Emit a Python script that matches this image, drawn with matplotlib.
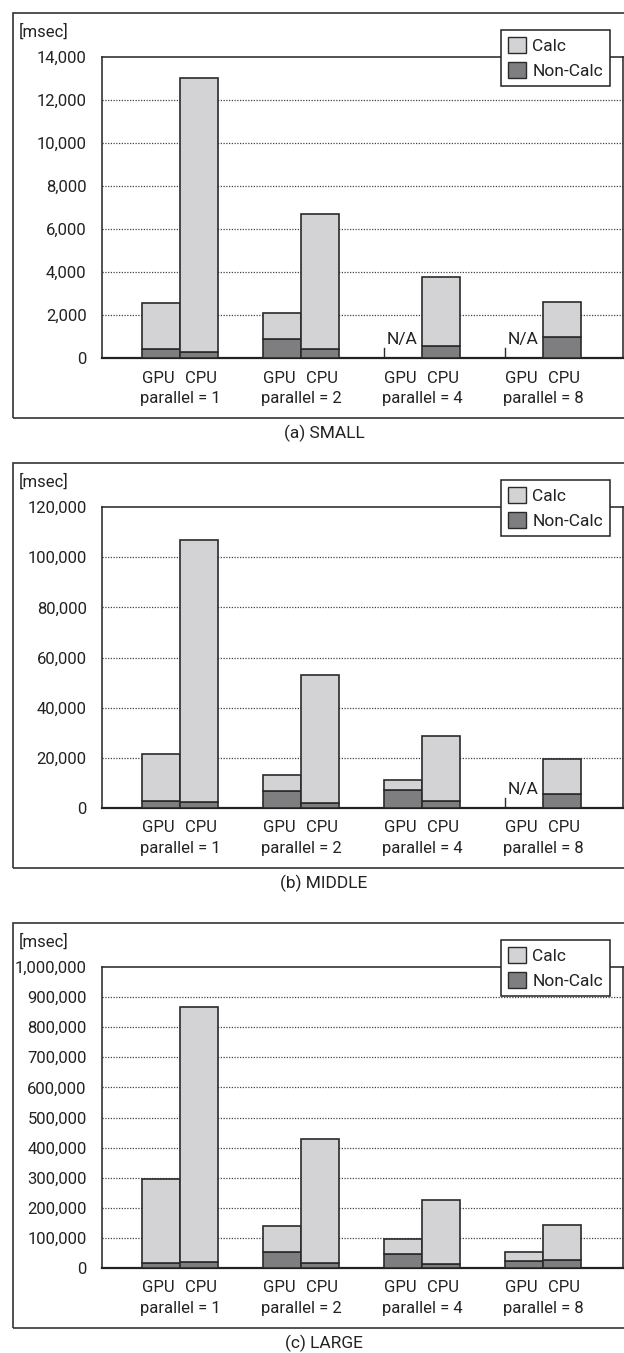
import numpy as np
from matplotlib import pyplot as plt
from matplotlib.patches import Patch, Rectangle

# data (msec)
groups = ["parallel = 1", "parallel = 2", "parallel = 4", "parallel = 8"]
nan = np.nan

small_gpu_non = [420, 900, nan, nan]
small_gpu_calc = [2150, 1180, nan, nan]
small_cpu_non = [300, 400, 550, 1000]
small_cpu_calc = [12700, 6300, 3200, 1600]

middle_gpu_non = [2600, 6600, 7000, nan]
middle_gpu_calc = [19000, 6400, 4000, nan]
middle_cpu_non = [2200, 1800, 2600, 5400]
middle_cpu_calc = [104800, 51200, 26200, 14000]

large_gpu_non = [15300, 51700, 45000, 24300]
large_gpu_calc = [280700, 87300, 51000, 27700]
large_cpu_non = [20000, 15300, 13200, 26500]
large_cpu_calc = [847000, 414700, 213300, 117100]

captions = ["(a) SMALL", "(b) MIDDLE", "(c) LARGE"]
y_max = [14000, 120000, 1000000]
y_step = [2000, 20000, 100000]

plt.rcParams["font.family"] = ["Roboto", "DejaVu Sans"]
plt.rcParams["font.size"] = 12

W, H = 624, 1353
CALC = "#d3d3d5"
NON = "#7e7e80"
EDGE = "#2a2a2a"
TXT = "#222222"


def fx(x):
    return x / W


def fy(y):
    return 1 - y / H


fig = plt.figure(figsize=(W / 100, H / 100), dpi=100)

data = [
    (small_gpu_non, small_gpu_calc, small_cpu_non, small_cpu_calc),
    (middle_gpu_non, middle_gpu_calc, middle_cpu_non, middle_cpu_calc),
    (large_gpu_non, large_gpu_calc, large_cpu_non, large_cpu_calc),
]
offsets = [0, 450, 910]

x = np.arange(len(groups))
bw = 0.314

for i, (gn, gc, cn, cc) in enumerate(data):
    off = offsets[i]
    # outer frame
    fig.add_artist(Rectangle((fx(13), fy(418 + off)), fx(640) - fx(13), fy(13 + off) - fy(418 + off),
                             transform=fig.transFigure, fill=False, edgecolor="#333333", lw=1.2))
    ax = fig.add_axes([fx(102), fy(358 + off), fx(623) - fx(102), fy(57 + off) - fy(358 + off)])
    gpu_x = x - bw / 2
    cpu_x = x + bw / 2
    gn = np.array(gn, dtype=float)
    gc = np.array(gc, dtype=float)
    cn = np.array(cn, dtype=float)
    cc = np.array(cc, dtype=float)
    ok = ~np.isnan(gn)
    ax.bar(gpu_x[ok], gn[ok], bw, color=NON, edgecolor=EDGE, lw=1.2, zorder=3)
    ax.bar(gpu_x[ok], gc[ok], bw, bottom=gn[ok], color=CALC, edgecolor=EDGE, lw=1.2, zorder=3)
    ax.bar(cpu_x, cn, bw, color=NON, edgecolor=EDGE, lw=1.2, zorder=3)
    ax.bar(cpu_x, cc, bw, bottom=cn, color=CALC, edgecolor=EDGE, lw=1.2, zorder=3)

    for j in np.where(~ok)[0]:
        x0 = x[j] - bw
        ax.plot([x0, x0], [0, 0.033], color=EDGE, lw=1.0,
                transform=ax.get_xaxis_transform(), zorder=3)
        ax.annotate("N/A", (x0, 0), xytext=(2, 8), textcoords="offset points",
                    ha="left", va="bottom", fontsize=12.5, color=TXT)

    ax.set_xlim(-0.645, 3.661)
    ax.set_ylim(0, y_max[i])
    ticks = np.arange(0, y_max[i] + 1, y_step[i])
    ax.set_yticks(ticks)
    ax.set_yticklabels([f"{t:,}" for t in ticks])
    ax.tick_params(axis="y", length=0, pad=11, labelcolor=TXT)
    for t in ticks[1:-1]:
        ax.axhline(t, color="#444444", lw=0.9, ls=(0, (1, 1.2)), zorder=1)

    ax.set_xticks(np.concatenate([gpu_x - 0.02, cpu_x + 0.02]))
    ax.set_xticklabels(["GPU"] * 4 + ["CPU"] * 4)
    ax.tick_params(axis="x", length=0, pad=9, labelcolor=TXT)
    for j, g in enumerate(groups):
        ax.text(x[j], -0.133, g, transform=ax.get_xaxis_transform(),
                ha="center", va="center", fontsize=12, color=TXT)

    for s in ax.spines.values():
        s.set_color("#222222")
        s.set_linewidth(1.1)
    ax.spines["bottom"].set_linewidth(1.6)

    fig.text(fx(19), fy(32 + off), "[msec]", ha="left", va="center", fontsize=12, color=TXT)
    fig.text(fx(324), fy(433 + off), captions[i], ha="center", va="center", fontsize=12.5, color=TXT)

    handles = [Patch(facecolor=CALC, edgecolor=EDGE, label="Calc"),
               Patch(facecolor=NON, edgecolor=EDGE, label="Non-Calc")]
    leg = fig.legend(handles=handles, loc="upper left", bbox_to_anchor=(fx(501), fy(30 + off)),
                     frameon=True, fancybox=False, edgecolor="#222222", framealpha=1,
                     handlelength=1.05, handleheight=1.05, handletextpad=0.35,
                     labelspacing=0.45, borderpad=0.4, borderaxespad=0, fontsize=12.5)
    leg.get_frame().set_linewidth(1.1)
    for t in leg.get_texts():
        t.set_color(TXT)

fig.savefig("out.png", dpi=100)
